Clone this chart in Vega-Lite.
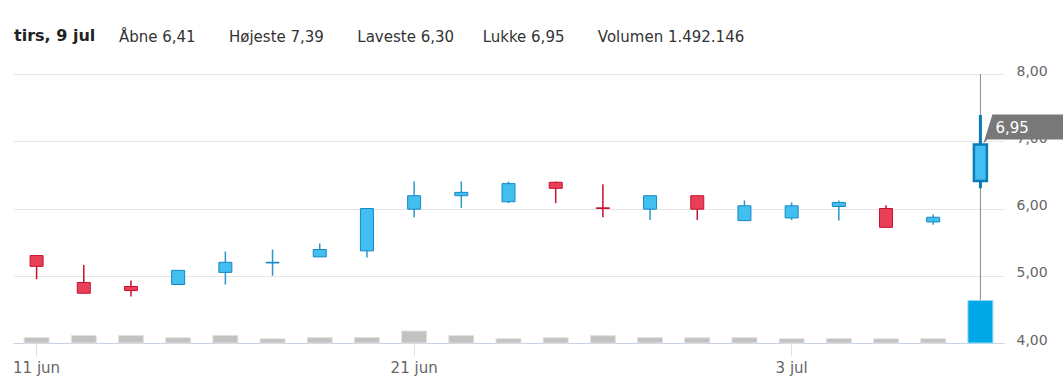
{
  "$schema": "https://vega.github.io/schema/vega-lite/v6.json",
  "width": 991,
  "height": 269,
  "autosize": "none",
  "padding": {"left": 13, "top": 74, "right": 59, "bottom": 39},
  "background": "white",
  "title": {
    "text": "tirs, 9 jul",
    "subtitle": "\u200b\u00a0\u00a0\u00a0\u00a0\u00a0\u00a0\u00a0\u00a0\u00a0\u00a0\u00a0\u00a0\u00a0\u00a0\u00a0\u00a0\u00a0\u00a0\u00a0\u00a0\u00a0\u00a0Åbne 6,41\u00a0\u00a0\u00a0\u00a0\u00a0\u00a0\u00a0Højeste 7,39\u00a0\u00a0\u00a0\u00a0\u00a0\u00a0\u00a0Laveste 6,30\u00a0\u00a0\u00a0\u00a0\u00a0\u00a0Lukke 6,95\u00a0\u00a0\u00a0\u00a0\u00a0\u00a0\u00a0Volumen 1.492.146",
    "anchor": "start",
    "frame": "group",
    "font": "DejaVu Sans",
    "fontSize": 16,
    "fontWeight": "bold",
    "color": "#222222",
    "subtitleFont": "DejaVu Sans",
    "subtitleFontSize": 15,
    "subtitleFontWeight": "normal",
    "subtitleColor": "#333333",
    "subtitlePadding": -14,
    "offset": 19,
    "dx": 1
  },
  "data": {
    "values": [
      {"date": "2024-06-11", "open": 5.30, "high": 5.30, "low": 4.95, "close": 5.14, "volume": 190000},
      {"date": "2024-06-12", "open": 4.90, "high": 5.16, "low": 4.74, "close": 4.74, "volume": 265000},
      {"date": "2024-06-13", "open": 4.84, "high": 4.93, "low": 4.69, "close": 4.78, "volume": 262000},
      {"date": "2024-06-14", "open": 4.87, "high": 5.08, "low": 4.87, "close": 5.08, "volume": 185000},
      {"date": "2024-06-17", "open": 5.05, "high": 5.36, "low": 4.87, "close": 5.20, "volume": 268000},
      {"date": "2024-06-18", "open": 5.19, "high": 5.39, "low": 5.00, "close": 5.20, "volume": 150000},
      {"date": "2024-06-19", "open": 5.28, "high": 5.48, "low": 5.28, "close": 5.39, "volume": 188000},
      {"date": "2024-06-20", "open": 5.37, "high": 6.00, "low": 5.27, "close": 6.00, "volume": 192000},
      {"date": "2024-06-21", "open": 5.99, "high": 6.40, "low": 5.87, "close": 6.19, "volume": 420000},
      {"date": "2024-06-24", "open": 6.19, "high": 6.40, "low": 6.01, "close": 6.24, "volume": 260000},
      {"date": "2024-06-25", "open": 6.10, "high": 6.40, "low": 6.08, "close": 6.37, "volume": 152000},
      {"date": "2024-06-26", "open": 6.39, "high": 6.40, "low": 6.08, "close": 6.30, "volume": 186000},
      {"date": "2024-06-27", "open": 6.01, "high": 6.36, "low": 5.87, "close": 6.00, "volume": 258000},
      {"date": "2024-06-28", "open": 5.99, "high": 6.19, "low": 5.83, "close": 6.19, "volume": 190000},
      {"date": "2024-07-01", "open": 6.19, "high": 6.19, "low": 5.83, "close": 5.99, "volume": 184000},
      {"date": "2024-07-02", "open": 5.82, "high": 6.12, "low": 5.82, "close": 6.04, "volume": 188000},
      {"date": "2024-07-03", "open": 5.86, "high": 6.09, "low": 5.83, "close": 6.04, "volume": 150000},
      {"date": "2024-07-04", "open": 6.03, "high": 6.12, "low": 5.82, "close": 6.09, "volume": 155000},
      {"date": "2024-07-05", "open": 6.00, "high": 6.05, "low": 5.72, "close": 5.72, "volume": 148000},
      {"date": "2024-07-08", "open": 5.80, "high": 5.91, "low": 5.76, "close": 5.87, "volume": 152000},
      {"date": "2024-07-09", "open": 6.41, "high": 7.39, "low": 6.30, "close": 6.95, "volume": 1492146}
    ]
  },
  "encoding": {
    "x": {
      "field": "date",
      "type": "ordinal",
      "sort": "ascending",
      "scale": {"paddingInner": 0, "paddingOuter": 0},
      "axis": {
        "values": ["2024-06-11", "2024-06-21", "2024-07-03"],
        "labelExpr": "datum.value == '2024-06-11' ? '11 jun' : datum.value == '2024-06-21' ? '21 jun' : '3 jul'",
        "bandPosition": 0.5,
        "title": null,
        "labelAngle": 0,
        "domainColor": "#c8d4e4",
        "domainWidth": 1,
        "tickColor": "#e0e0e0",
        "tickSize": 13,
        "tickWidth": 1,
        "labelPadding": 4,
        "labelFont": "DejaVu Sans",
        "labelFontSize": 15,
        "labelColor": "#666666",
        "grid": false
      }
    }
  },
  "layer": [
    {
      "transform": [{"filter": "datum.date == '2024-07-09'"}],
      "mark": {"type": "rule", "color": "#8a8a8a", "strokeWidth": 1},
      "encoding": {}
    },
    {
      "mark": {"type": "bar", "width": 25, "strokeWidth": 1},
      "encoding": {
        "y": {"field": "volume", "type": "quantitative", "scale": {"domain": [0, 9430000]}, "axis": null},
        "fill": {"condition": {"test": "datum.date == '2024-07-09'", "value": "#00a8e8"}, "value": "#c2c2c2"},
        "stroke": {"condition": {"test": "datum.date == '2024-07-09'", "value": "#9adcf6"}, "value": "#e2e2e2"}
      }
    },
    {
      "mark": {"type": "rule"},
      "encoding": {
        "y": {
          "field": "low",
          "type": "quantitative",
          "scale": {"domain": [4, 8], "nice": false, "zero": false},
          "axis": {
            "orient": "right",
            "values": [4, 5, 6, 7, 8],
            "format": ".2f",
            "title": null,
            "grid": true,
            "gridColor": "#e6e6e6",
            "gridWidth": 1,
            "domain": false,
            "ticks": false,
            "labelPadding": 12,
            "labelFont": "DejaVu Sans",
            "labelFontSize": 14,
            "labelColor": "#666666",
            "labelBaseline": "alphabetic",
            "labelOffset": 1
          }
        },
        "y2": {"field": "high"},
        "color": {"condition": [
          {"test": "datum.date == '2024-07-09'", "value": "#0b7ab6"},
          {"test": "datum.open > datum.close", "value": "#c8102e"}
        ], "value": "#2a98cf"},
        "strokeWidth": {"condition": {"test": "datum.date == '2024-07-09'", "value": 3}, "value": 1.5}
      }
    },
    {
      "mark": {"type": "bar", "width": 13},
      "encoding": {
        "y": {"field": "open", "type": "quantitative", "scale": {"domain": [4, 8], "nice": false, "zero": false}, "axis": null},
        "y2": {"field": "close"},
        "fill": {"condition": {"test": "datum.open > datum.close", "value": "#e9405a"}, "value": "#42bef0"},
        "stroke": {"condition": [
          {"test": "datum.date == '2024-07-09'", "value": "#0b7ab6"},
          {"test": "datum.open > datum.close", "value": "#c8102e"}
        ], "value": "#1689c4"},
        "strokeWidth": {"condition": {"test": "datum.date == '2024-07-09'", "value": 2.5}, "value": 1}
      }
    },
    {
      "transform": [{"filter": "datum.date == '2024-07-09'"}],
      "mark": {"type": "point", "shape": "M3,-1L12,-30L100,-30L100,-5L7,-5Z", "size": 4, "filled": true, "fill": "#787878", "opacity": 1, "strokeWidth": 0},
      "encoding": {
        "y": {"field": "close", "type": "quantitative", "scale": {"domain": [4, 8], "nice": false, "zero": false}, "axis": null}
      }
    },
    {
      "transform": [{"filter": "datum.date == '2024-07-09'"}],
      "mark": {"type": "text", "dx": 15, "dy": -17, "align": "left", "baseline": "middle", "font": "DejaVu Sans", "fontSize": 15, "color": "#ffffff"},
      "encoding": {
        "y": {"field": "close", "type": "quantitative", "scale": {"domain": [4, 8], "nice": false, "zero": false}, "axis": null},
        "text": {"field": "close", "type": "quantitative", "format": ".2f"}
      }
    }
  ],
  "resolve": {"scale": {"y": "independent"}},
  "config": {
    "view": {"stroke": null},
    "locale": {"number": {"decimal": ",", "thousands": ".", "grouping": [3], "currency": ["", ""]}}
  }
}
